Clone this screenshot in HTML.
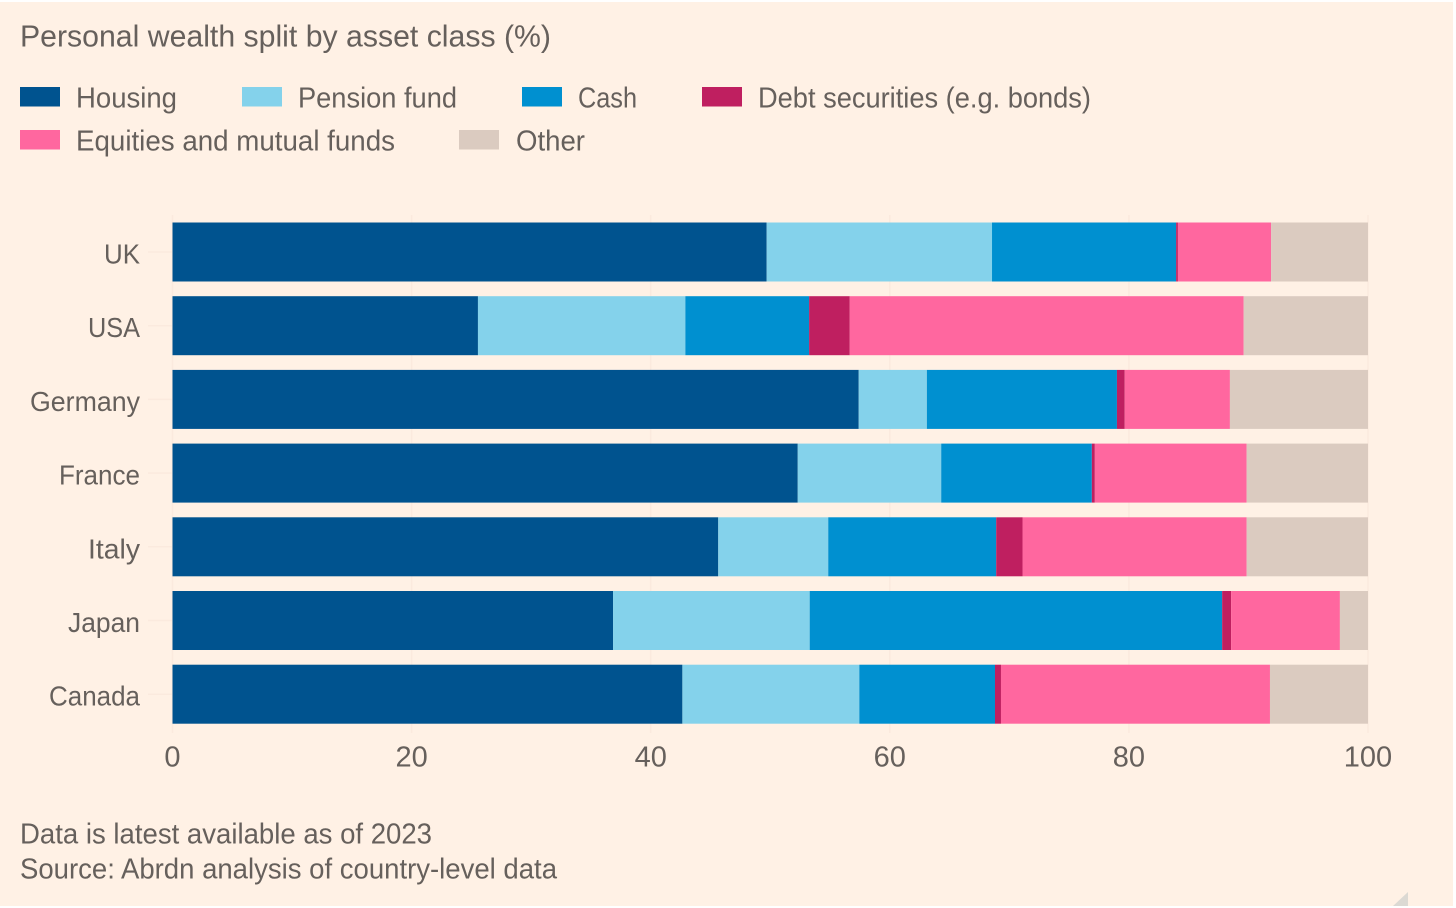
<!DOCTYPE html>
<html lang="en">
<head>
<meta charset="utf-8">
<title>Personal wealth split by asset class</title>
<style>
  html, body { margin: 0; padding: 0; width: 1456px; height: 908px; overflow: hidden; background: #ffffff; }
  svg { display: block; }
  text { font-family: "Liberation Sans", sans-serif; fill: #66605c; }
</style>
</head>
<body>
<svg id="chart" width="1456" height="908" viewBox="0 0 1456 908" xmlns="http://www.w3.org/2000/svg">
  <rect x="0" y="2" width="1453" height="904" fill="#fff1e5"/>
  <text x="20" y="46.5" font-size="31" textLength="531" lengthAdjust="spacingAndGlyphs">Personal wealth split by asset class (%)</text>

  <g>
    <g>
      <rect x="20" y="87" width="40" height="19.5" fill="#00538f"/>
      <text x="76" y="107.5" font-size="29" textLength="101" lengthAdjust="spacingAndGlyphs">Housing</text>
    </g>
    <g>
      <rect x="242" y="87" width="40" height="19.5" fill="#84d2eb"/>
      <text x="298" y="107.5" font-size="29" textLength="159" lengthAdjust="spacingAndGlyphs">Pension fund</text>
    </g>
    <g>
      <rect x="522" y="87" width="40" height="19.5" fill="#0090d0"/>
      <text x="578" y="107.5" font-size="29" textLength="59" lengthAdjust="spacingAndGlyphs">Cash</text>
    </g>
    <g>
      <rect x="702" y="87" width="40" height="19.5" fill="#bf1f60"/>
      <text x="758" y="107.5" font-size="29" textLength="333" lengthAdjust="spacingAndGlyphs">Debt securities (e.g. bonds)</text>
    </g>
    <g>
      <rect x="20" y="130" width="40" height="19.5" fill="#ff679f"/>
      <text x="76" y="150.5" font-size="29" textLength="319" lengthAdjust="spacingAndGlyphs">Equities and mutual funds</text>
    </g>
    <g>
      <rect x="459" y="130" width="40" height="19.5" fill="#dbcbc0"/>
      <text x="516" y="150.5" font-size="29" textLength="69" lengthAdjust="spacingAndGlyphs">Other</text>
    </g>
  </g>

  <g id="grid"></g>
  <g id="bars"></g>
  <g id="y-axis"></g>
  <g id="x-axis"></g>

  <text x="20" y="843.5" font-size="29" textLength="412" lengthAdjust="spacingAndGlyphs">Data is latest available as of 2023</text>
  <text x="20" y="878.5" font-size="29" textLength="537" lengthAdjust="spacingAndGlyphs">Source: Abrdn analysis of country-level data</text>
  <polygon points="1408,892 1408,906 1393,906" fill="#dcd9d3"/>
</svg>
<script>
const categories = ["UK", "USA", "Germany", "France", "Italy", "Japan", "Canada"];
const housing = [49.7, 25.55, 57.4, 52.3, 45.65, 36.85, 42.65];
const pensionFund = [18.85, 17.35, 5.7, 12.0, 9.2, 16.45, 14.8];
const cash = [15.4, 10.35, 15.9, 12.6, 14.05, 34.5, 11.35];
const debtSecurities = [0.15, 3.4, 0.65, 0.25, 2.2, 0.75, 0.5];
const equities = [7.8, 32.95, 8.8, 12.7, 18.75, 9.1, 22.5];
const other = [8.1, 10.4, 11.55, 10.15, 10.15, 2.35, 8.2];
const xTickValues = [0, 20, 40, 60, 80, 100];
const xTickLabels = ["0", "20", "40", "60", "80", "100"];

const seriesNames = ["housing", "pension-fund", "cash", "debt-securities", "equities", "other"];
const seriesValues = [housing, pensionFund, cash, debtSecurities, equities, other];
const seriesColors = ["#00538f", "#84d2eb", "#0090d0", "#bf1f60", "#ff679f", "#dbcbc0"];

const SVG_NS = "http://www.w3.org/2000/svg";
const plotLeft = 172.5, plotRight = 1368, plotTop = 215, bandStart = 222.5, bandStep = 73.7, barHeight = 59;
const xScale = v => plotLeft + (v / 100) * (plotRight - plotLeft);
const yScale = i => bandStart + i * bandStep;
/* Text fitting: the reference face is narrower than Liberation Sans, so labels are squeezed to its ink widths. */
const labelFit = { UK: 36, USA: 52, Germany: 110, France: 81, Italy: 52, Japan: 72, Canada: 91 };

function make(tag, attrs, parent) {
  const el = document.createElementNS(SVG_NS, tag);
  for (const k in attrs) el.setAttribute(k, attrs[k]);
  parent.appendChild(el);
  return el;
}

const gridGroup = document.getElementById("grid");
const barGroup = document.getElementById("bars");
const yGroup = document.getElementById("y-axis");
const xGroup = document.getElementById("x-axis");

xTickValues.forEach((v, i) => {
  const line = make("line", { x1: xScale(v), x2: xScale(v), y1: plotTop, y2: 733, stroke: "#fbeade", "stroke-width": 1.5 }, gridGroup);
  
  
  const t = make("text", { x: xScale(v), y: 766.5, "font-size": 29, "text-anchor": "middle" }, xGroup);
  t.textContent = xTickLabels[i];
  
  
});

categories.forEach((name, i) => {
  const y = yScale(i);
  const tick = make("line", { x1: 148, x2: plotLeft, y1: y + barHeight / 2, y2: y + barHeight / 2, stroke: "#fbeade", "stroke-width": 1.5 }, gridGroup);
  
  

  const label = make("text", { x: 140, y: y + 41, "font-size": 28, "text-anchor": "end", textLength: labelFit[name], lengthAdjust: "spacingAndGlyphs" }, yGroup);
  label.textContent = name;
  
  

  let cumulative = 0;
  seriesValues.forEach((values, s) => {
    const x0 = xScale(cumulative);
    cumulative += values[i];
    const x1 = xScale(cumulative);
    const bar = make("rect", { x: x0, y: y, width: Math.max(0, x1 - x0), height: barHeight, fill: seriesColors[s] }, barGroup);
    
    
  });
});
</script>
</body>
</html>
